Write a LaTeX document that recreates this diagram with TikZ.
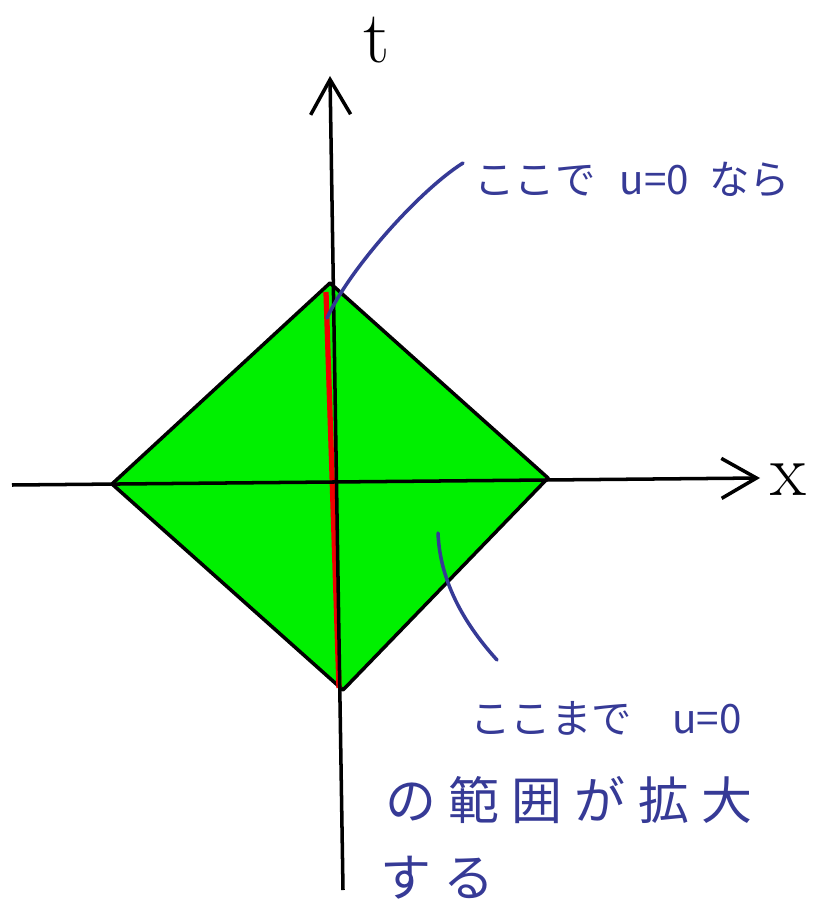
\documentclass[tikz,border=0pt]{standalone}
\usepackage{fontspec}
\newfontfamily\jpfont{Noto Sans CJK JP}
\usetikzlibrary{arrows.meta}

\begin{document}
\begin{tikzpicture}[x=0.02cm, y=-0.02cm]
    % Define colours
    \definecolor{borderColour}{HTML}{000000}
    \definecolor{fillColour}{HTML}{00F000}
    \definecolor{noteColour}{HTML}{363A96}
    \definecolor{redColour}{HTML}{F00000}

    % Styles for the axes and the notes
    \tikzset{
      axisLine/.style={line width=2pt, -{Straight Barb[length=7mm, width=8mm, line width=2pt]}},
      noteLine/.style={noteColour, line width=2pt, line cap=round},
      noteText/.style={noteColour, inner sep=0pt, font=\jpfont\fontsize{23}{28}\selectfont},
      bigText/.style={noteText, font=\jpfont\fontsize{29}{34}\selectfont\addfontfeature{LetterSpace=24}}
    }

    % Fix the page to the size of the reference
    \useasboundingbox (0,0) rectangle (812,902);

  % Define the vertices of the diamond
  \coordinate (T) at (330,283); % top, on the t axis
  \coordinate (R) at (548,478); % right, on the x axis
  \coordinate (B) at (343,690); % bottom, on the t axis
  \coordinate (L) at (112,484); % left, on the x axis

  % Draw the diamond
  \filldraw[fill=fillColour, draw=borderColour, line width=2pt, line join=round] (T) -- (R) -- (B) -- (L) -- cycle;

  % Draw the red segment along the t axis
  \coordinate (redTop) at (326,292);
  \coordinate (redBottom) at (339,688);
  \draw[redColour, line width=3pt] (redTop) -- (redBottom);

  % Draw the axes
  \coordinate (tStart) at (343,890);
  \coordinate (tEnd) at (330,76);
  \coordinate (xStart) at (12,485);
  \coordinate (xEnd) at (760,478);
  \draw[axisLine] (tStart) -- (tEnd);
  \draw[axisLine] (xStart) -- (xEnd);
  \node[font=\fontsize{42}{46}\selectfont] (tLabel) at (377,40) {t};
  \node[font=\fontsize{42}{46}\selectfont] (xLabel) at (788,480) {x};

  % Upper note and its curve
  \node[noteText, anchor=west] (noteTop) at (474,180) {ここで\hspace{0.6em}u=0\hspace{0.5em}なら};
  \coordinate (topTail) at (463,163);
  \coordinate (topPoint) at (327,318);
  \draw[noteLine] (topTail) .. controls (420,190) and (350,268) .. (topPoint);

  % Lower note and its curve
  \node[noteText, anchor=west] (noteBottomA) at (470,718) {ここまで\hspace{1em}u=0};
  \node[bigText, anchor=west] (noteBottomB) at (385,800) {の範囲が拡大};
  \node[bigText, anchor=west] (noteBottomC) at (380,878) {する};
  \coordinate (insidePoint) at (438,533);
  \coordinate (bottomTail) at (497,660);
  \draw[noteLine] (insidePoint) .. controls (440,585) and (468,628) .. (bottomTail);

\end{tikzpicture}
\end{document}
